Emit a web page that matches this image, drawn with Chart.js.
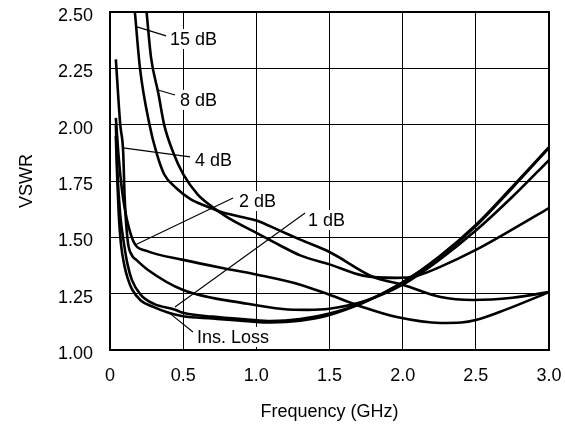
<!DOCTYPE html>
<html>
<head>
<meta charset="utf-8">
<script src="https://cdn.jsdelivr.net/npm/chart.js@4.4.1/dist/chart.umd.min.js"></script>
<style>
  body { margin: 0; background: #fff; }
  canvas { display: block; }
</style>
</head>
<body>
<canvas id="chart" width="565" height="430"></canvas>
<script>
// frequency (GHz) / VSWR pairs
const freq15 = [0.17, 0.205, 0.27, 0.32, 0.37, 0.45, 0.55, 0.65, 0.75, 0.9, 1.0, 1.16, 1.3, 1.5, 1.8, 2.0, 2.26, 2.48, 2.75, 3.0];
const vswr15 = [2.50, 2.25, 2.00, 1.87, 1.78, 1.72, 1.67, 1.64, 1.615, 1.59, 1.575, 1.53, 1.49, 1.435, 1.324, 1.29, 1.235, 1.222, 1.232, 1.257];

const freq8 = [0.25, 0.28, 0.33, 0.37, 0.43, 0.5, 0.6, 0.7, 0.8, 1.0, 1.16, 1.3, 1.5, 1.73, 1.96, 2.1, 2.26, 2.5, 2.75, 3.0];
const vswr8 = [2.50, 2.30, 2.14, 2.00, 1.88, 1.78, 1.69, 1.635, 1.59, 1.52, 1.465, 1.42, 1.38, 1.33, 1.32, 1.33, 1.37, 1.444, 1.535, 1.63];

const freq4 = [0.04, 0.07, 0.09, 0.1, 0.12, 0.15, 0.18, 0.26, 0.5, 0.94, 1.18, 1.35, 1.5, 1.73, 2.0, 2.25, 2.5, 2.75, 3.0];
const vswr4 = [2.29, 2.00, 1.88, 1.68, 1.49, 1.42, 1.40, 1.355, 1.266, 1.205, 1.182, 1.178, 1.183, 1.215, 1.29, 1.40, 1.53, 1.68, 1.843];

const freq2 = [0.04, 0.06, 0.08, 0.1, 0.13, 0.17, 0.25, 0.5, 0.84, 1.0, 1.3, 1.5, 1.73, 1.96, 2.26, 2.4, 2.5, 2.7, 3.0];
const vswr2 = [2.03, 1.85, 1.72, 1.63, 1.54, 1.47, 1.44, 1.40, 1.355, 1.335, 1.29, 1.245, 1.19, 1.146, 1.12, 1.122, 1.133, 1.178, 1.257];

const freq1 = [0.04, 0.05, 0.07, 0.096, 0.12, 0.15, 0.21, 0.3, 0.44, 0.5, 0.7, 0.94, 1.1, 1.3, 1.5, 1.73, 2.0, 2.25, 2.5, 2.75, 3.0];
const vswr1 = [2.00, 1.80, 1.60, 1.47, 1.38, 1.31, 1.245, 1.205, 1.18, 1.165, 1.148, 1.135, 1.128, 1.137, 1.162, 1.21, 1.30, 1.415, 1.555, 1.725, 1.90];

const freqIL = [0.04, 0.05, 0.06, 0.075, 0.1, 0.12, 0.15, 0.21, 0.3, 0.4, 0.5, 0.7, 0.94, 1.1, 1.3, 1.5, 1.73, 2.0, 2.25, 2.5, 2.75, 3.0];
const vswrIL = [1.95, 1.75, 1.60, 1.47, 1.37, 1.32, 1.27, 1.22, 1.19, 1.165, 1.15, 1.14, 1.128, 1.122, 1.13, 1.155, 1.21, 1.30, 1.41, 1.55, 1.72, 1.897];

const xTicks = [0, 0.5, 1.0, 1.5, 2.0, 2.5, 3.0];
const yTicks = [1.00, 1.25, 1.50, 1.75, 2.00, 2.25, 2.50];

// curve labels: text, point on curve, end of leader, left-middle of text
const notes = [
  { text: "15 dB", from: [0.185, 2.434], to: [0.383, 2.394], at: [0.41, 2.38] },
  { text: "8 dB", from: [0.328, 2.154], to: [0.444, 2.132], at: [0.478, 2.11] },
  { text: "4 dB", from: [0.089, 1.897], to: [0.547, 1.857], at: [0.581, 1.843] },
  { text: "2 dB", from: [0.171, 1.466], to: [0.841, 1.675], at: [0.882, 1.661] },
  { text: "1 dB", from: [0.444, 1.191], to: [1.333, 1.608], at: [1.353, 1.577] },
  { text: "Ins. Loss", from: [0.396, 1.169], to: [0.567, 1.08], at: [0.595, 1.058] },
];

const FONT = "'Liberation Sans', Arial, sans-serif";
Chart.defaults.font.family = FONT;
Chart.defaults.font.size = 18;
Chart.defaults.color = "#000";

function pts(fs, vs) {
  return fs.map((f, i) => ({ x: f, y: vs[i] }));
}

function series(fs, vs) {
  return {
    data: pts(fs, vs),
    borderColor: "#000",
    borderWidth: 2.6,
    pointRadius: 0,
    fill: false,
    cubicInterpolationMode: "monotone",
  };
}

const frame = {
  id: "frame",
  afterDatasetsDraw(chart) {
    const { ctx, chartArea: a, scales } = chart;
    ctx.save();
    ctx.strokeStyle = "#000";
    ctx.lineWidth = 2;
    ctx.strokeRect(a.left, a.top, a.right - a.left, a.bottom - a.top);

    // leaders first, then labels on white
    ctx.lineWidth = 1.1;
    notes.forEach((n) => {
      ctx.beginPath();
      ctx.moveTo(scales.x.getPixelForValue(n.from[0]), scales.y.getPixelForValue(n.from[1]));
      ctx.lineTo(scales.x.getPixelForValue(n.to[0]), scales.y.getPixelForValue(n.to[1]));
      ctx.stroke();
    });
    ctx.font = "18px " + FONT;
    ctx.textBaseline = "middle";
    ctx.textAlign = "left";
    notes.forEach((n) => {
      const x = scales.x.getPixelForValue(n.at[0]);
      const y = scales.y.getPixelForValue(n.at[1]);
      const w = ctx.measureText(n.text).width;
      ctx.fillStyle = "#fff";
      ctx.fillRect(x - 1, y - 10, w + 2, 20);
      ctx.fillStyle = "#000";
      ctx.fillText(n.text, x, y + 1);
    });
    ctx.restore();
  },
};

new Chart(document.getElementById("chart"), {
  type: "line",
  data: {
    datasets: [
      series(freq15, vswr15),
      series(freq8, vswr8),
      series(freq4, vswr4),
      series(freq2, vswr2),
      series(freq1, vswr1),
      series(freqIL, vswrIL),
    ],
  },
  options: {
    responsive: false,
    animation: false,
    layout: { padding: { top: 12, right: 16, left: 0, bottom: 0 } },
    plugins: { legend: { display: false }, tooltip: { enabled: false } },
    scales: {
      x: {
        type: "linear",
        min: 0,
        max: 3,
        afterBuildTicks: (s) => { s.ticks = xTicks.map((v) => ({ value: v })); },
        afterFit: (s) => { s.height = 80; s.paddingLeft = 0; s.paddingRight = 0; },
        ticks: {
          padding: 15,
          maxRotation: 0,
          callback: (v) => (v === 0 ? "0" : v.toFixed(1)),
        },
        grid: { color: "#000", lineWidth: 1, drawTicks: false },
        border: { display: false },
        title: { display: true, text: "Frequency (GHz)", padding: { top: 0, bottom: 7 } },
      },
      y: {
        min: 1,
        max: 2.5,
        afterBuildTicks: (s) => { s.ticks = yTicks.map((v) => ({ value: v })); },
        afterFit: (s) => { s.width = 110; s.paddingTop = 0; s.paddingBottom = 0; },
        ticks: {
          padding: 17,
          labelOffset: 4,
          callback: (v) => v.toFixed(2),
        },
        grid: { color: "#000", lineWidth: 1, drawTicks: false },
        border: { display: false },
        title: { display: true, text: "VSWR", padding: { top: 16, bottom: 0 } },
      },
    },
  },
  plugins: [frame],
});
</script>
</body>
</html>
